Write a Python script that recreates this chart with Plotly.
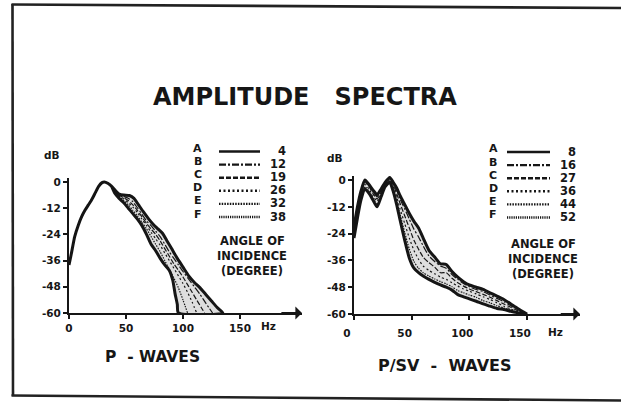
import plotly.graph_objects as go

# ---------------- data ----------------
CURVE_LABELS = ["A", "B", "C", "D", "E", "F"]
P_ANGLES = [4, 12, 19, 26, 32, 38]
PSV_ANGLES = [8, 16, 27, 36, 44, 52]

X_TICKS = [0, 50, 100, 150]
X_TICK_TEXT = ["0", "50", "100", "150"]
Y_TICKS = [0, -12, -24, -36, -48, -60]
Y_TICK_TEXT = ["0", "-12", "-24", "-36", "-48", "-60"]

# P-waves: common low-frequency rise shared by all angles
P_RISE_HZ = [0, 2, 5, 8, 11, 14, 17, 20, 23, 26, 29, 31, 34, 37]
P_RISE_DB = [-38, -33, -25, -20, -16, -13, -10.5, -8, -5, -2, -0.3, 0, -0.6, -1.8]

# P-waves: high-frequency fall-off per angle of incidence
P_A_HZ = [40, 44, 48, 53, 57, 61, 65, 70, 74, 78, 82, 86, 90, 95, 100, 105, 110, 115, 120, 125, 130, 135]
P_A_DB = [-3.5, -5.5, -6, -6.2, -7.5, -10.5, -13.5, -17, -19.5, -21.5, -23.5, -27, -30.5, -35, -39, -43, -46,
          -48.5, -51.5, -54.5, -57.5, -60]
P_B_HZ = [40, 44, 48, 52, 56, 60, 64, 68, 72, 76, 80, 84, 88, 92, 96, 100, 105, 110, 115, 120, 126]
P_B_DB = [-3.8, -5.8, -6.6, -7.5, -9, -11.8, -14.8, -17.8, -20, -22.5, -25, -28.5, -32, -35, -38, -41, -44.5,
          -48, -51.5, -55.5, -60]
P_C_HZ = [40, 44, 48, 52, 56, 60, 64, 68, 72, 76, 80, 84, 88, 92, 96, 100, 104, 108, 112, 116, 119]
P_C_DB = [-4, -6, -7.2, -8.5, -10.5, -13, -16, -19, -21.5, -24, -27, -30.5, -34, -37.5, -40.5, -43.5, -47,
          -50.5, -54, -57.5, -60]
P_D_HZ = [40, 44, 48, 52, 56, 60, 64, 68, 72, 76, 80, 84, 88, 92, 96, 100, 104, 108, 112]
P_D_DB = [-4.2, -6.2, -7.8, -9.5, -11.5, -14, -17, -20, -23, -26, -29, -32.5, -36, -39.5, -43, -46.5, -50.5,
          -55, -60]
P_E_HZ = [40, 44, 48, 52, 56, 60, 64, 68, 72, 76, 80, 84, 88, 92, 96, 100, 104]
P_E_DB = [-4.5, -6.5, -8.5, -10.5, -13, -15.5, -18.5, -21.5, -25, -28.5, -32, -36, -40, -44, -48.5, -54, -60]
P_F_HZ = [40, 44, 48, 52, 56, 60, 64, 68, 72, 76, 80, 84, 88, 91, 93, 95, 96]
P_F_DB = [-5, -7.5, -9.5, -12, -14.5, -17, -20, -24, -28.5, -31.5, -35, -38, -40.5, -45, -51, -56, -60]

# P/SV-waves: all angles sampled on one frequency grid
PSV_HZ = [0, 3, 6, 9.5, 13, 16.5, 20, 23.5, 27, 31, 34, 37, 40, 44, 48, 52, 56, 60, 65, 70, 75, 80, 85, 90,
          95, 100, 106, 112, 118, 124, 130, 136, 142, 150]
PSV_A_DB = [-21, -12, -5, 0, -2, -4.5, -6.5, -4, -1, 1.2, -1, -3.5, -7, -11, -15, -18.5, -21.5, -26, -31.5,
            -34.5, -37.5, -37.8, -41, -43.5, -45.5, -47, -48, -49, -50.5, -52, -53.5, -55.5, -57.5, -60]
PSV_B_DB = [-22, -13, -5.5, -0.5, -2.5, -5, -7.5, -4.5, -1.2, 1, -1.5, -4.5, -8.5, -13, -17.5, -22, -25.5,
            -29.5, -34, -36.5, -38.5, -39.5, -42.3, -44.5, -46.3, -47.8, -49, -50, -51.5, -53, -54.5, -56.3,
            -58, -60]
PSV_C_DB = [-23, -14, -6.5, -1, -3, -6, -8.5, -5.5, -1.5, 0.5, -2, -6, -10.5, -16, -21.5, -27, -31, -34.5,
            -37, -39, -41.5, -41.5, -44, -46, -47.5, -48.8, -50, -51.2, -52.5, -54, -55.5, -57, -58.5, -60]
PSV_D_DB = [-24, -15, -7, -2, -4, -7, -9.5, -6, -2, 0, -3, -7.5, -13, -19.5, -26, -31.5, -35.5, -38.5, -40.5,
            -42, -43.5, -44.5, -46, -47.5, -48.8, -49.8, -51, -52.3, -53.5, -55, -56.5, -57.8, -59, -60]
PSV_E_DB = [-25, -16, -8, -3, -5, -8, -11, -6.5, -2.5, -0.5, -4, -9.5, -15.5, -23.5, -31, -36.5, -39.5,
            -41.5, -43, -44.3, -45.5, -46.5, -47.8, -49.5, -50.5, -51.5, -52.5, -54, -55, -56.3, -57.3,
            -58.3, -59.2, -60]
PSV_F_DB = [-26, -17, -9, -4, -6, -9, -12, -7.5, -3, -1, -5, -11, -18, -27, -35, -39.5, -41.5, -43, -44.5,
            -45.8, -47, -48, -49.3, -51.3, -52.3, -53.2, -54.3, -55.5, -56.5, -57.5, -58, -58.8, -59.4, -60]

# ---------------- styling ----------------
W, H = 621, 402
INK = "#161616"
FILL = "#dedede"
FONT = "DejaVu Sans"
DASHES = ["solid", "7px,2px,2px,2px", "5px,2px", "2px,2.5px", "1.5px,1.2px", "1.2px,1px"]


def px(x):
    return x / W


def py(y):
    return 1 - y / H


p_curves_hz = [P_RISE_HZ + t for t in (P_A_HZ, P_B_HZ, P_C_HZ, P_D_HZ, P_E_HZ, P_F_HZ)]
p_curves_db = [P_RISE_DB + t for t in (P_A_DB, P_B_DB, P_C_DB, P_D_DB, P_E_DB, P_F_DB)]
psv_curves_db = [PSV_A_DB, PSV_B_DB, PSV_C_DB, PSV_D_DB, PSV_E_DB, PSV_F_DB]
psv_curves_hz = [PSV_HZ] * 6

fig = go.Figure()


def add_panel(curves_hz, curves_db, xa, ya):
    # shaded envelope between the highest and lowest spectra, heavy outline
    env_x = curves_hz[0] + curves_hz[-1][::-1]
    env_y = curves_db[0] + curves_db[-1][::-1]
    fig.add_trace(go.Scatter(x=env_x, y=env_y, mode="lines", fill="toself", fillcolor=FILL,
                             line=dict(color=INK, width=3, shape="spline", smoothing=0.6),
                             xaxis=xa, yaxis=ya, showlegend=False, hoverinfo="skip"))
    for hz, db, dash, lab in zip(curves_hz, curves_db, DASHES, CURVE_LABELS):
        fig.add_trace(go.Scatter(x=hz, y=db, mode="lines", name=lab,
                                 line=dict(color=INK, width=1.2, dash=dash, shape="spline", smoothing=0.6),
                                 xaxis=xa, yaxis=ya, showlegend=False))


add_panel(p_curves_hz, p_curves_db, "x", "y")
add_panel(psv_curves_hz, psv_curves_db, "x2", "y2")

tickfont = dict(family=FONT, size=10.5, color=INK, weight="bold")
axis_common = dict(showgrid=False, zeroline=False, showline=True, linecolor=INK, linewidth=2,
                   ticks="outside", ticklen=4, tickwidth=2, tickcolor=INK, tickfont=tickfont,
                   automargin=False)

fig.update_layout(
    template="none",
    width=W, height=H, margin=dict(l=0, r=0, t=0, b=0, pad=0, autoexpand=False),
    paper_bgcolor="white", plot_bgcolor="rgba(0,0,0,0)", showlegend=False,
    xaxis=dict(domain=[px(69), px(302)], range=[0, 204.4], anchor="y",
               tickvals=X_TICKS, ticktext=X_TICK_TEXT, **axis_common),
    yaxis=dict(domain=[py(313), py(177.6)], range=[-60, 2], anchor="x",
               tickvals=Y_TICKS, ticktext=Y_TICK_TEXT, **axis_common),
    xaxis2=dict(domain=[px(354), px(580)], range=[0, 196], anchor="y2",
                tickvals=X_TICKS, ticktext=X_TICK_TEXT, ticklabelstandoff=4, ticklabelshift=-7,
                **axis_common),
    yaxis2=dict(domain=[py(314), py(175.6)], range=[-60, 2], anchor="x2",
                tickvals=Y_TICKS, ticktext=Y_TICK_TEXT, **axis_common),
)

annotations = []
shapes = []


def text(x, y, s, size, xanchor="center"):
    annotations.append(dict(x=px(x), y=py(y), xref="paper", yref="paper", text=s, showarrow=False,
                            xanchor=xanchor, yanchor="middle",
                            font=dict(family=FONT, size=size, color=INK, weight="bold")))


# arrowheads at the end of the frequency axes
for xr, yr, xend, xtail in (("x", "y", 204.4, 185), ("x2", "y2", 196, 178)):
    annotations.append(dict(x=xend, y=-60, ax=xtail, ay=-60, xref=xr, yref=yr, axref=xr, ayref=yr,
                            text="", showarrow=True, arrowhead=1, arrowsize=1.1, arrowwidth=2,
                            arrowcolor=INK))

# title and panel labels
text(305, 97, "AMPLITUDE\u00a0\u00a0\u00a0SPECTRA", 24)
text(152, 357, "P\u00a0\u00a0-\u00a0WAVES", 15.5)
text(444, 365, "P/SV\u00a0\u00a0-\u00a0\u00a0WAVES", 16)
text(52, 155, "dB", 10.5)
text(335, 158, "dB", 10.5)
text(268, 326, "Hz", 10.5)
text(555, 332, "Hz", 10.5)


def legend(letter_x, line_x0, line_x1, num_right, row0, angles, cap_x, cap_y0):
    for i, (lab, ang, dash) in enumerate(zip(CURVE_LABELS, angles, DASHES)):
        ry = row0 + 13.1 * i
        text(letter_x, ry - 2.5, lab, 11)
        text(num_right, ry, str(ang), 11.5, xanchor="right")
        shapes.append(dict(type="line", xref="paper", yref="paper",
                           x0=px(line_x0), x1=px(line_x1), y0=py(ry + 0.5), y1=py(ry + 0.5),
                           line=dict(color=INK, width=2.4, dash=dash)))
    for j, s in enumerate(["ANGLE OF", "INCIDENCE", "(DEGREE)"]):
        text(cap_x, cap_y0 + 15.3 * j, s, 11.5)


legend(198, 219, 260, 288, 151, P_ANGLES, 252, 240.5)
legend(493, 507, 550, 578, 151.5, PSV_ANGLES, 543, 243.5)

# page frame
shapes.append(dict(type="line", xref="paper", yref="paper", x0=px(12.5), y0=py(4), x1=px(13), y1=py(396),
                   line=dict(color="#222", width=2.6)))
shapes.append(dict(type="line", xref="paper", yref="paper", x0=px(11.5), y0=py(4.5), x1=px(621), y1=py(8),
                   line=dict(color="#222", width=2.6)))
shapes.append(dict(type="line", xref="paper", yref="paper", x0=px(11.5), y0=py(395.5), x1=px(621), y1=py(400.5),
                   line=dict(color="#222", width=2.6)))

fig.update_layout(annotations=annotations, shapes=shapes)
fig.write_html("out.html")
